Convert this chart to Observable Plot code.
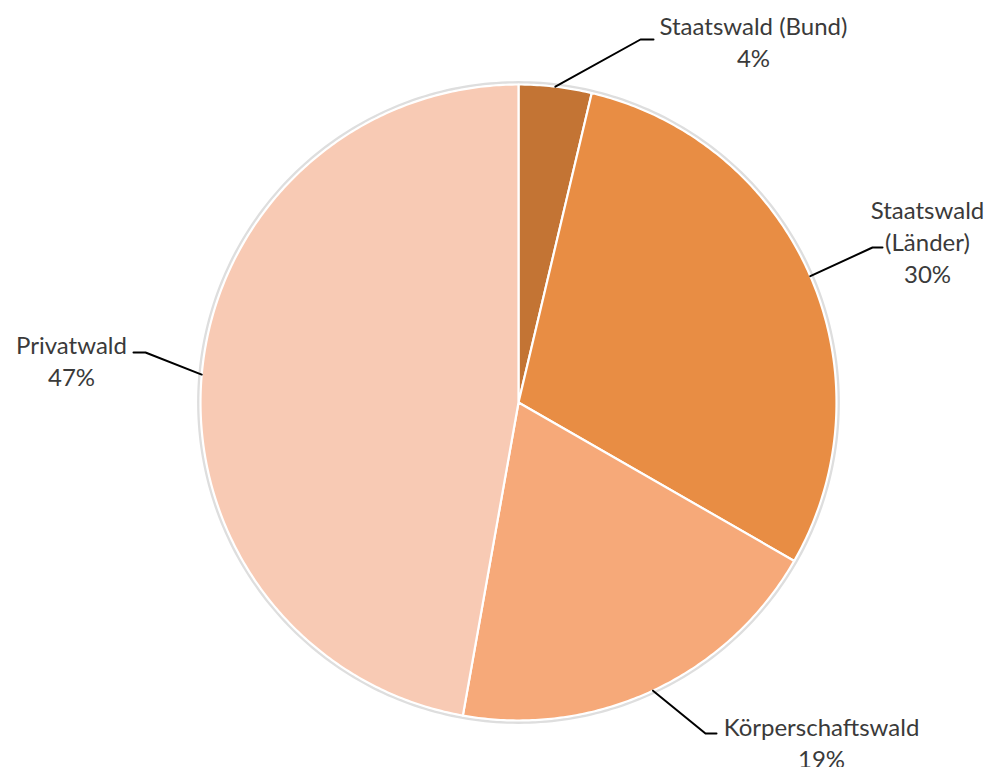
<!DOCTYPE html>
<html>
<head>
<meta charset="utf-8">
<script src="https://cdn.jsdelivr.net/npm/d3@7"></script>
<script src="https://cdn.jsdelivr.net/npm/@observablehq/plot@0.6"></script>
<style>
  html, body { margin: 0; padding: 0; background: #ffffff; }
  #chart { width: 995px; height: 767px; }
</style>
</head>
<body>
<div id="chart"></div>
<script>
// ---- data ----
const categories = ["Staatswald (Bund)", "Staatswald (Länder)", "Körperschaftswald", "Privatwald"];
const labelTexts = ["Staatswald (Bund)", "Staatswald\n(Länder)", "Körperschaftswald", "Privatwald"];
const shares = [3.7, 29.6, 19.5, 47.2];
const percentLabels = ["4%", "30%", "19%", "47%"];
const colors = ["#C37434", "#E88D44", "#F6A979", "#F8CAB4"];

// ---- layout (pixels) ----
const W = 995, H = 767;
const cx = 518, cy = 402, R = 318;
const labelLayout = [
  {elbow: [640, 39],  end: [653, 39],  text: [753, 40]},
  {elbow: [872, 247], end: [882, 247], text: [927, 240]},
  {elbow: [705, 733], end: [716, 733], text: [821, 741]},
  {elbow: [145, 352], end: [133, 352], text: [71, 359]}
];
const ux = px => (px - cx) / R;
const uy = py => (cy - py) / R;

const pie = d3.pie().sort(null).value(d => d.value)
  (categories.map((c, i) => ({name: c, value: shares[i], i})));

function slicePoints(a0, a1) {
  const pts = [{x: 0, y: 0}];
  const n = Math.max(2, Math.ceil((a1 - a0) / 0.01));
  for (let k = 0; k <= n; k++) {
    const a = a0 + (a1 - a0) * k / n;
    pts.push({x: Math.sin(a), y: Math.cos(a)});
  }
  pts.push({x: 0, y: 0});
  return pts;
}

const circle = d3.range(0, 361).map(d => {
  const a = d * Math.PI / 180;
  return {x: 1.006 * Math.sin(a), y: 1.006 * Math.cos(a)};
});

const sliceMarks = pie.map(p => Plot.line(slicePoints(p.startAngle, p.endAngle), {
  x: "x", y: "y", fill: colors[p.data.i], stroke: "#ffffff", strokeWidth: 2.2, strokeLinejoin: "round"
}));

const leaders = pie.map(p => {
  const m = (p.startAngle + p.endAngle) / 2;
  const L = labelLayout[p.data.i];
  return Plot.line([
    {x: Math.sin(m), y: Math.cos(m)},
    {x: ux(L.elbow[0]), y: uy(L.elbow[1])},
    {x: ux(L.end[0]), y: uy(L.end[1])}
  ], {x: "x", y: "y", stroke: "#000000", strokeWidth: 2});
});

const labelData = categories.map((c, i) => ({
  x: ux(labelLayout[i].text[0]),
  y: uy(labelLayout[i].text[1]),
  label: labelTexts[i] + "\n" + percentLabels[i]
}));

const chart = Plot.plot({
  width: W, height: H,
  marginTop: 0, marginRight: 0, marginBottom: 0, marginLeft: 0,
  x: {domain: [ux(0), ux(W)], range: [0, W], axis: null},
  y: {domain: [uy(0), uy(H)], range: [0, H], axis: null},
  style: {background: "#ffffff", overflow: "visible"},
  marks: [
    Plot.line(circle, {x: "x", y: "y", stroke: "#dedede", strokeWidth: 3}),
    ...sliceMarks,
    ...leaders,
    Plot.text(labelData, {
      x: "x", y: "y", text: "label",
      fontFamily: "Lato, 'Open Sans', sans-serif", fontSize: 24,
      lineHeight: 1.333, fill: "#3a3a3a", textAnchor: "middle"
    })
  ]
});
document.getElementById("chart").appendChild(chart);
</script>
</body>
</html>
